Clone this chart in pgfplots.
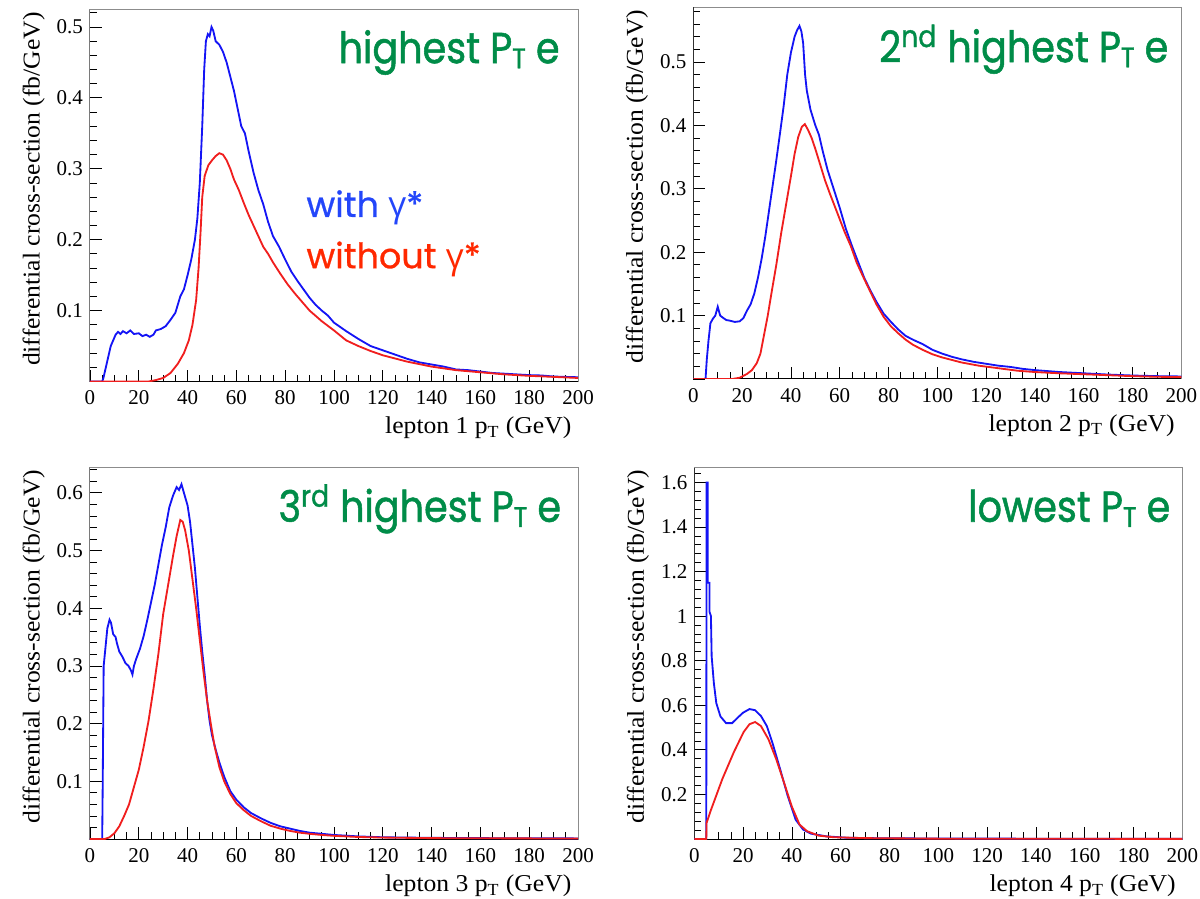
\documentclass[border=0pt]{standalone}
\usepackage{fontspec}
\setmainfont{Liberation Serif}
\newfontfamily\labfont{Liberation Serif}[FakeStretch=1.06]
\newfontfamily\futura{Poppins}[FakeStretch=0.88, FakeBold=1.2]
\newfontfamily\futuraleg{Poppins}[FakeBold=0.8]
\newfontfamily\greekf{Open Sans}
\usepackage{pgfplots}
\pgfplotsset{compat=1.18}

\definecolor{ttgreen}{RGB}{0,140,72}
\definecolor{lineblue}{RGB}{20,20,245}
\definecolor{linered}{RGB}{240,30,30}
\definecolor{txtblue}{RGB}{35,70,250}
\definecolor{txtred}{RGB}{255,40,0}

\pgfplotsset{rootstyle/.style={
  scale only axis, width=292.8pt, height=222.9pt,
  xmin=0, xmax=200, ymin=0,
  xtick={0,20,...,200}, minor xtick={5,10,...,195},
  tick align=inside, tick pos=left,
  major tick length=7pt, minor tick length=4pt,
  axis line style={black!45, line width=0.6pt},
  tick style={black, line width=0.5pt},
  /pgf/number format/assume math mode=true,
  tick label style={font=\fontsize{12.6}{15}\selectfont},
  xticklabel style={inner sep=0pt, yshift=-5.4pt},
  yticklabel style={inner sep=0pt, xshift=-4pt},
  label style={font=\labfont\fontsize{14.5}{17}\selectfont, inner sep=0pt},
  ylabel={differential cross-section (fb/GeV)},
  ylabel style={at={(axis description cs:-0.092,0.995)}, anchor=south east},
  xlabel style={at={(axis description cs:0.987,-0.095)}, anchor=north east},
  every axis plot/.append style={line width=1.1pt, mark=none},
}}
\newcommand{\frameLB}{\draw[black, line width=0.6pt] (rel axis cs:0,1) -- (rel axis cs:0,0) -- (rel axis cs:1,0);}
\newcommand{\PT}{P{\raisebox{-0.12em}{\fontsize{17}{20}\selectfont T}}}
\newcommand{\gam}{{\greekf γ}}

\begin{document}
\begin{tikzpicture}
\useasboundingbox (0,0) rectangle (720pt,538.8pt);

% ---------------- panel 1
\begin{axis}[rootstyle, at={(54pt,309.9pt)}, anchor=south west, ymax=0.524,
  ytick={0,0.1,0.2,0.3,0.4,0.5}, yticklabels={,0.1,0.2,0.3,0.4,0.5},
  minor ytick={0.02,0.04,...,0.52},
  xlabel={lepton 1 p\textsubscript{T} (GeV)}]
\frameLB
\addplot[lineblue] coordinates {(0,0)(5,0)(5.5,0.005)(6.5,0.02)(7.5,0.035)(8.5,0.05)(9.5,0.058)(10.5,0.066)(11.5,0.07)(12.5,0.067)(13.5,0.071)(15,0.068)(16.5,0.072)(18,0.067)(20,0.068)(21.5,0.064)(23,0.066)(24.5,0.063)(26,0.066)(27,0.072)(29,0.074)(31,0.078)(33,0.087)(35,0.097)(37,0.12)(38.5,0.13)(40,0.15)(41.5,0.172)(43,0.2)(44,0.23)(45,0.28)(46,0.36)(46.8,0.44)(47.5,0.48)(48.3,0.49)(49,0.487)(49.8,0.5)(50.5,0.495)(51.5,0.48)(53,0.475)(54.5,0.465)(56,0.45)(57.5,0.43)(59,0.41)(60.5,0.385)(62,0.36)(63.5,0.35)(65,0.325)(67,0.295)(69,0.27)(71,0.25)(73,0.225)(75,0.205)(77.5,0.19)(80,0.172)(82.5,0.155)(85,0.142)(87.5,0.13)(90,0.118)(92.5,0.108)(95,0.1)(97.5,0.093)(100,0.083)(105,0.071)(110,0.06)(115,0.05)(120,0.044)(125,0.038)(130,0.032)(135,0.027)(140,0.024)(145,0.021)(150,0.017)(155,0.016)(160,0.014)(165,0.012)(170,0.011)(175,0.01)(180,0.009)(185,0.0085)(190,0.007)(195,0.0065)(200,0.006)};
\addplot[linered] coordinates {(0,0)(24,0)(27,0.002)(30,0.005)(33,0.012)(36,0.025)(38.5,0.04)(40.5,0.058)(42,0.08)(43.5,0.115)(44.5,0.16)(45.3,0.21)(46,0.26)(47,0.29)(48.5,0.305)(50,0.312)(51.5,0.318)(53,0.322)(54.5,0.32)(56,0.312)(57.5,0.3)(59,0.285)(61,0.27)(63,0.252)(65,0.235)(67,0.22)(69,0.205)(71,0.19)(73,0.18)(75,0.168)(78,0.152)(81,0.137)(84,0.124)(87,0.112)(90,0.1)(95,0.085)(100,0.072)(105,0.058)(110,0.05)(115,0.043)(120,0.037)(130,0.028)(140,0.021)(150,0.016)(160,0.013)(170,0.01)(180,0.008)(190,0.0065)(200,0.005)};
\node[anchor=base east, text=ttgreen, font=\futura\fontsize{26}{30}\selectfont, inner sep=0pt] at (rel axis cs:0.963,0.857) {highest \PT\ e};
\node[anchor=base west, text=txtblue, font=\futuraleg\fontsize{21}{24}\selectfont, inner sep=0pt] at (rel axis cs:0.443,0.443) {with \gam*};
\node[anchor=base west, text=txtred, font=\futuraleg\fontsize{21}{24}\selectfont, inner sep=0pt] at (rel axis cs:0.443,0.305) {without \gam*};
\end{axis}

% ---------------- panel 2
\begin{axis}[rootstyle, at={(416pt,311.4pt)}, anchor=south west, ymax=0.586,
  ytick={0,0.1,0.2,0.3,0.4,0.5}, yticklabels={,0.1,0.2,0.3,0.4,0.5},
  minor ytick={0.02,0.04,...,0.58},
  xlabel={lepton 2 p\textsubscript{T} (GeV)}]
\frameLB
\addplot[lineblue] coordinates {(0,0)(5,0)(5.5,0.03)(6.2,0.06)(7,0.088)(8,0.095)(9,0.1)(10,0.114)(11,0.1)(12,0.097)(13.5,0.093)(15,0.092)(17,0.09)(19,0.091)(20.5,0.096)(22,0.108)(23.5,0.118)(25,0.135)(26.5,0.16)(28,0.19)(29.5,0.225)(31,0.265)(32.5,0.305)(34,0.345)(35.5,0.387)(37,0.43)(38.5,0.48)(40,0.515)(41.5,0.54)(42.5,0.55)(43.5,0.557)(44.3,0.548)(45,0.53)(45.8,0.48)(46.5,0.455)(48,0.425)(50,0.4)(51.5,0.385)(53,0.36)(55,0.33)(57.5,0.3)(60,0.27)(62.5,0.237)(65,0.21)(67.5,0.185)(70,0.16)(72.5,0.14)(75,0.122)(78,0.103)(81,0.09)(84,0.078)(87,0.068)(90,0.062)(94,0.055)(98,0.046)(102,0.04)(106,0.035)(110,0.031)(115,0.027)(120,0.024)(125,0.021)(130,0.019)(135,0.016)(140,0.014)(150,0.011)(160,0.009)(170,0.007)(180,0.0055)(190,0.0045)(200,0.004)};
\addplot[linered] coordinates {(0,0)(16,0)(19,0.002)(22,0.008)(24,0.014)(26,0.025)(27.5,0.04)(29,0.07)(30.5,0.1)(32,0.135)(34,0.18)(36,0.23)(38,0.275)(40,0.32)(41.5,0.355)(43,0.382)(44.5,0.398)(45.7,0.402)(47,0.393)(48.5,0.38)(50,0.363)(52,0.338)(54,0.313)(56,0.292)(58,0.272)(60,0.252)(62,0.232)(64.5,0.21)(67,0.183)(70,0.158)(72.5,0.138)(75,0.118)(78,0.098)(81,0.083)(84,0.072)(87,0.062)(90,0.054)(94,0.046)(98,0.039)(102,0.034)(106,0.03)(110,0.026)(117,0.021)(125,0.017)(133,0.013)(140,0.011)(150,0.009)(160,0.0075)(170,0.006)(180,0.0045)(190,0.0035)(200,0.003)};
\node[anchor=base east, text=ttgreen, font=\futura\fontsize{26}{30}\selectfont, inner sep=0pt] at (rel axis cs:0.974,0.853) {2\textsuperscript{nd} highest \PT\ e};
\end{axis}

% ---------------- panel 3
\begin{axis}[rootstyle, at={(54pt,35.4pt)}, anchor=south west, ymax=0.644,
  ytick={0,0.1,0.2,0.3,0.4,0.5,0.6}, yticklabels={,0.1,0.2,0.3,0.4,0.5,0.6},
  minor ytick={0.02,0.04,...,0.64},
  xlabel={lepton 3 p\textsubscript{T} (GeV)}]
\frameLB
\addplot[lineblue] coordinates {(0,0)(5,0)(5.2,0.09)(5.6,0.3)(6.3,0.33)(7.1,0.365)(8,0.38)(8.6,0.375)(9.5,0.355)(10.5,0.35)(11,0.34)(12,0.325)(13.4,0.315)(14.5,0.305)(15.8,0.3)(16.8,0.292)(17.4,0.285)(18,0.3)(19,0.313)(20.5,0.33)(22,0.352)(23.5,0.38)(25,0.41)(26.5,0.44)(28,0.475)(29.5,0.51)(31,0.54)(32.5,0.575)(34,0.595)(35.5,0.61)(36.5,0.605)(37.5,0.615)(38.5,0.6)(40,0.578)(41,0.55)(42,0.51)(43,0.47)(44,0.42)(45,0.37)(46,0.325)(47,0.285)(48,0.24)(49,0.205)(50,0.18)(51.5,0.155)(53,0.133)(55,0.108)(57.5,0.083)(60,0.068)(63,0.055)(66,0.045)(70,0.036)(74,0.028)(78,0.022)(82,0.018)(86,0.014)(90,0.011)(95,0.009)(100,0.007)(110,0.0045)(120,0.003)(140,0.002)(160,0.0015)(200,0.001)};
\addplot[linered] coordinates {(0,0)(6,0)(8,0.003)(10,0.01)(12,0.022)(14,0.04)(16,0.06)(18,0.09)(20,0.12)(22,0.16)(24,0.205)(26,0.26)(28,0.32)(30,0.39)(32,0.44)(34,0.49)(35.5,0.525)(37,0.553)(38,0.55)(39,0.535)(40.5,0.5)(42,0.45)(43.5,0.4)(45,0.345)(46.5,0.29)(48,0.24)(49.5,0.2)(51,0.162)(53,0.125)(55,0.1)(57.5,0.078)(60,0.062)(63,0.05)(66,0.04)(70,0.031)(74,0.023)(78,0.018)(82,0.014)(86,0.011)(90,0.009)(95,0.007)(100,0.0055)(110,0.0035)(120,0.0025)(140,0.0015)(200,0.0008)};
\node[anchor=base east, text=ttgreen, font=\futura\fontsize{26}{30}\selectfont, inner sep=0pt] at (rel axis cs:0.966,0.854) {3\textsuperscript{rd} highest \PT\ e};
\end{axis}

% ---------------- panel 4
\begin{axis}[rootstyle, at={(416.6pt,35.4pt)}, anchor=south west, ymax=1.667,
  ytick={0,0.2,0.4,0.6,0.8,1,1.2,1.4,1.6}, yticklabels={,0.2,0.4,0.6,0.8,1,1.2,1.4,1.6},
  minor ytick={0.04,0.08,...,1.66},
  xlabel={lepton 4 p\textsubscript{T} (GeV)}]
\frameLB
\addplot[lineblue] coordinates {(0,0)(4.9,0)(5,1.6)(5.5,1.6)(5.5,1.15)(6.2,1.15)(6.2,1.02)(6.8,1.0)(7.1,0.82)(8,0.70)(9,0.61)(10.7,0.55)(13,0.52)(15.5,0.52)(17.8,0.545)(20,0.567)(22.6,0.583)(24.9,0.578)(27.3,0.552)(29.7,0.507)(32,0.432)(35.2,0.312)(38.3,0.192)(41.5,0.087)(44.6,0.042)(47.8,0.024)(54,0.012)(62,0.006)(70,0.004)(100,0.002)(200,0.0005)};
\addplot[linered] coordinates {(0,0)(4.9,0)(5,0.072)(6.8,0.13)(11.5,0.27)(16.2,0.39)(20.2,0.48)(22.6,0.515)(24.9,0.525)(27.3,0.507)(30.4,0.447)(33.6,0.357)(36.8,0.252)(39.9,0.147)(43.1,0.065)(46.2,0.035)(51,0.015)(57,0.008)(70,0.004)(100,0.0015)(200,0.0005)};
\node[anchor=base east, text=ttgreen, font=\futura\fontsize{26}{30}\selectfont, inner sep=0pt] at (rel axis cs:0.976,0.854) {lowest \PT\ e};
\end{axis}
\end{tikzpicture}
\end{document}
